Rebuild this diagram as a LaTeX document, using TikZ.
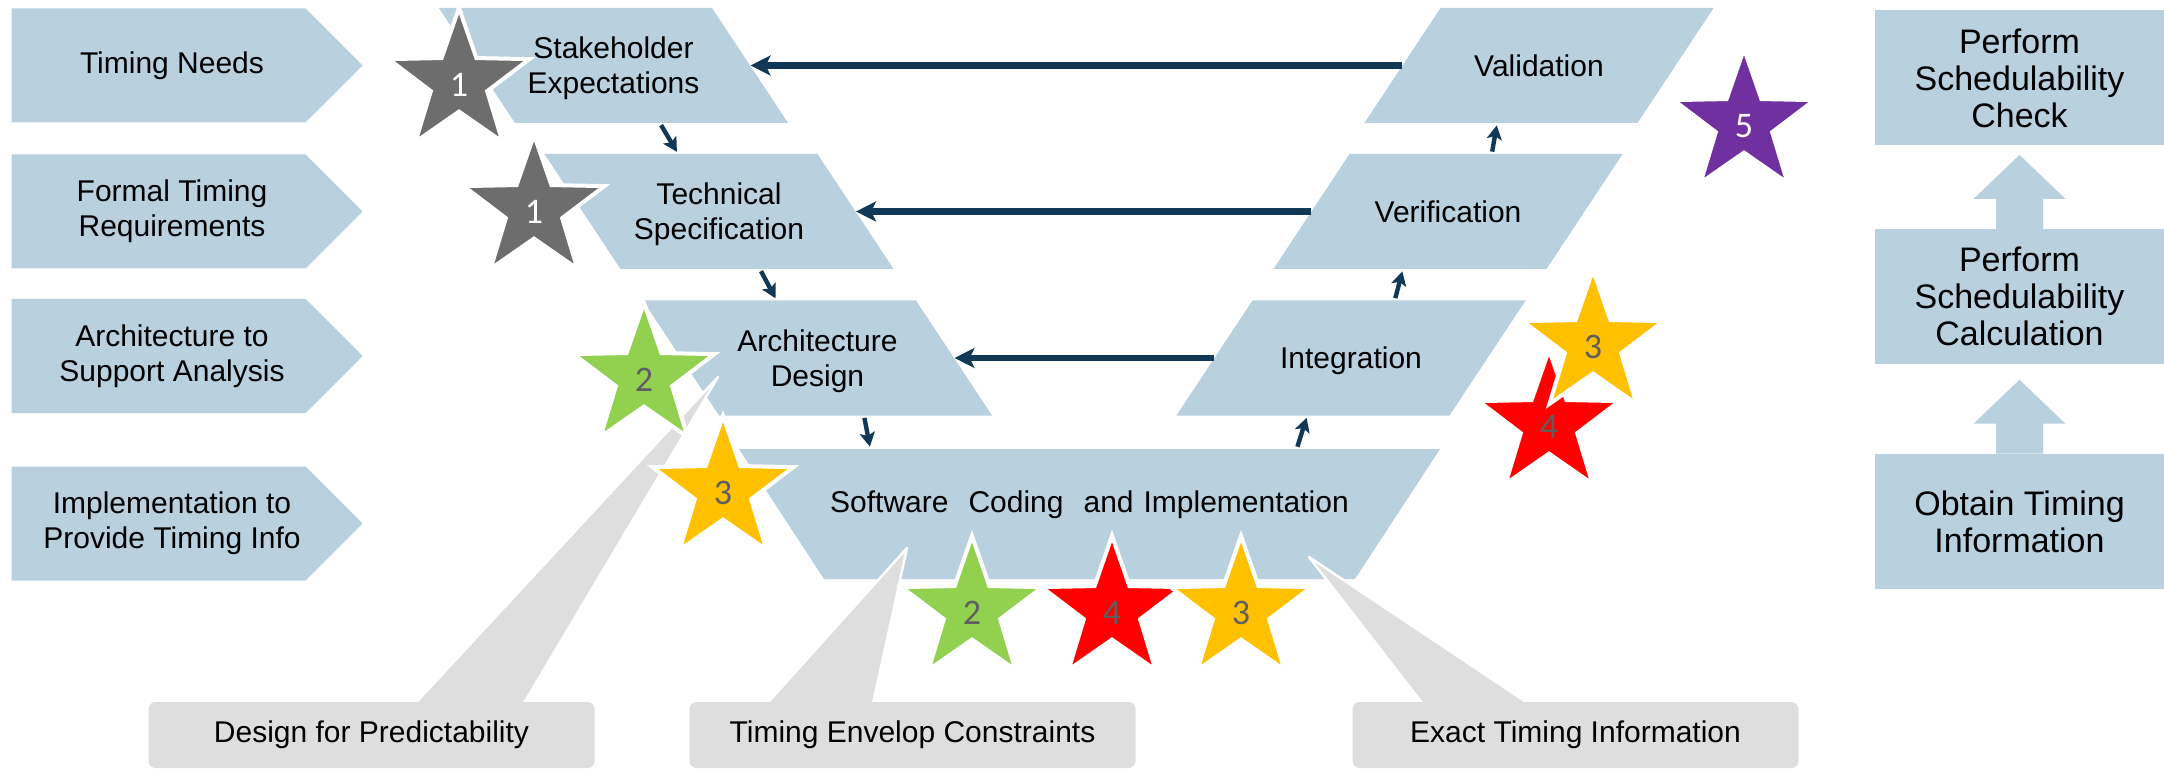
\documentclass[tikz,border=0pt]{standalone}
\usepackage{fontspec}
\setmainfont{Liberation Sans}
\newfontfamily\starfont{Carlito}
\usepackage{tikz}
\usetikzlibrary{
  arrows.meta,
  positioning,
  shapes.geometric,
  shapes.symbols,
  calc
}
\definecolor{vblue}{RGB}{185,208,222}
\definecolor{navy}{RGB}{17,56,86}
\definecolor{callgray}{RGB}{222,222,222}
\definecolor{stargray}{RGB}{109,109,109}
\definecolor{stargreen}{RGB}{146,208,80}
\definecolor{staryellow}{RGB}{255,192,0}
\definecolor{starred}{RGB}{255,0,0}
\definecolor{starpurple}{RGB}{112,48,160}
\definecolor{numgray}{RGB}{95,95,95}
\tikzset{
  sidebox/.style={signal, signal to=east, signal pointer angle=90,
    fill=vblue, minimum width=175.5pt, minimum height=57pt, inner sep=0pt},
  sidetext/.style={align=center, font=\fontsize{15}{17.5}\selectfont},
  % box size comes from the text box, so the slant angles stay exact
  downbox/.style={trapezium, trapezium left angle=123.5,
    trapezium right angle=56.5, fill=vblue, inner sep=0pt,
    text width=98.5pt, text height=25.37pt, text depth=32.13pt,
    align=center, font=\fontsize{15}{17.5}\selectfont},
  upbox/.style={downbox, trapezium left angle=56.5,
    trapezium right angle=123.5, text height=34.12pt, text depth=23.38pt},
  codebox/.style={downbox, trapezium left angle=123.2,
    trapezium right angle=123.2, text width=265.5pt,
    text height=31.87pt, text depth=33.13pt},
  schedbox/.style={rectangle, fill=vblue, minimum width=144.5pt,
    minimum height=67.5pt, align=center,
    font=\fontsize{17}{18.5}\selectfont},
  backarr/.style={draw=navy, line width=3.2pt,
    -{Stealth[length=10pt, width=10pt, inset=2.5pt]}},
  steparr/.style={draw=navy, line width=2.2pt, shorten <=1pt, shorten >=1pt,
    -{Stealth[length=7pt, width=7.5pt, inset=1.5pt]}},
  calltail/.style={fill=callgray, draw=white, line width=1.2pt,
    line join=round},
  callbox/.style={fill=callgray, rounded corners=3.5pt,
    minimum width=223pt, minimum height=33pt,
    font=\fontsize{15}{17.5}\selectfont},
  vstar/.style={star, star points=5, star point ratio=2.5,
    minimum size=74pt, inner sep=0pt, draw=white, line width=2pt},
  starnum/.style={font=\starfont\fontsize{18}{18}\selectfont, inner sep=0pt},
}

\begin{document}
\begin{tikzpicture}[x=0.5pt, y=-0.5pt]
  \useasboundingbox (0,0) rectangle (2164,770);

  % Left column: what each level has to deliver
  \foreach \nm/\yy/\txt in {
      needs/65.5/{Timing Needs},
      formal/211.5/{Formal Timing\\Requirements},
      support/356/{Architecture to\\Support Analysis},
      provide/523.5/{Implementation to\\Provide Timing Info}} {
    \node[sidebox] (\nm) at (158.5,\yy) {};
    \node[sidetext] (\nm-t) at ([xshift=6.75pt]\nm.center) {\txt};
  }

  % The V: down the left arm, up the right arm
  \node[downbox] (stake) at (613.5,65.5) {Stakeholder\\Expectations};
  \node[downbox] (tech) at (719,211.5) {Technical\\Specification};
  \node[downbox] (arch) at (817.5,358) {Architecture\\Design};
  \node[codebox] (code) at (1089.5,514)
    {Software\ \ Coding\ \ and Implementation};
  \node[upbox] (integ) at (1351,358) {Integration};
  \node[upbox] (verif) at (1448,211.5) {Verification};
  \node[upbox] (valid) at (1539,65.5) {Validation};

  % Feedback across the V
  \draw[backarr] (valid.left side) -- (stake.right side);
  \draw[backarr] (verif.left side) -- (tech.right side);
  \draw[backarr] (integ.left side) -- (arch.right side);

  % Flow along the V
  \draw[steparr] ($(stake.bottom left corner)!0.53!(stake.bottom right corner)$)
    -- ($(tech.top left corner)!0.49!(tech.top right corner)$);
  \draw[steparr] ($(tech.bottom left corner)!0.51!(tech.bottom right corner)$)
    -- ($(arch.top left corner)!0.49!(arch.top right corner)$);
  \draw[steparr] ($(arch.bottom left corner)!0.53!(arch.bottom right corner)$)
    -- ($(code.top left corner)!0.188!(code.top right corner)$);
  \draw[steparr] ($(code.top left corner)!0.795!(code.top right corner)$)
    -- ($(integ.bottom left corner)!0.48!(integ.bottom right corner)$);
  \draw[steparr] ($(integ.top left corner)!0.52!(integ.top right corner)$)
    -- ($(verif.bottom left corner)!0.475!(verif.bottom right corner)$);
  \draw[steparr] ($(verif.top left corner)!0.52!(verif.top right corner)$)
    -- ($(valid.bottom left corner)!0.487!(valid.bottom right corner)$);

  % Callouts: tail first, box over its foot
  \foreach \nm/\cx/\bl/\br/\tip/\txt in {
      predict/371.5/411/521/{718,377}/{Design for Predictability},
      envelop/912.5/763/872/{907,548}/{Timing Envelop Constraints},
      exact/1575.5/1426/1535/{1309,557}/{Exact Timing Information}} {
    \coordinate (\nm-tip) at (\tip);
    \filldraw[calltail] (\bl,708) -- (\nm-tip) -- (\br,708) -- cycle;
    \node[callbox] (\nm) at (\cx,735) {\txt};
  }

  % Right column: schedulability analysis
  \node[schedbox] (check) at (2019.5,78) {Perform\\Schedulability\\Check};
  \node[schedbox, below=41.5pt of check] (schedcalc)
    {Perform\\Schedulability\\Calculation};
  \node[schedbox, below=44.5pt of schedcalc] (obtain)
    {Obtain Timing\\Information};
  \foreach \lo in {obtain, schedcalc}
    \fill[vblue] ([xshift=-11.75pt]\lo.north) -- ++(0,-30) -- ++(-22.5,0)
      -- ++(46,-44) -- ++(46,44) -- ++(-22.5,0) -- ++(0,30) -- cycle;

  % Stars (red 4 goes under yellow 3 on the right)
  \foreach \nm/\pos/\col/\ncol/\num in {
      s1a/{459,82}/stargray/white/1,
      s1b/{534,209}/stargray/white/1,
      s2a/{644,377}/stargreen/numgray/2,
      s3a/{723,490}/staryellow/numgray/3,
      s2b/{972,610}/stargreen/numgray/2,
      s4b/{1112,610}/starred/numgray/4,
      s3b/{1241,610}/staryellow/numgray/3,
      s4c/{1549,424}/starred/numgray/4,
      s3c/{1593,344}/staryellow/numgray/3,
      s5/{1744,123}/starpurple/white/5} {
    \node[vstar, fill=\col] (\nm) at (\pos) {};
    \node[starnum, text=\ncol] (\nm-n) at ([yshift=-1.5pt]\nm.center) {\num};
  }
\end{tikzpicture}
\end{document}
